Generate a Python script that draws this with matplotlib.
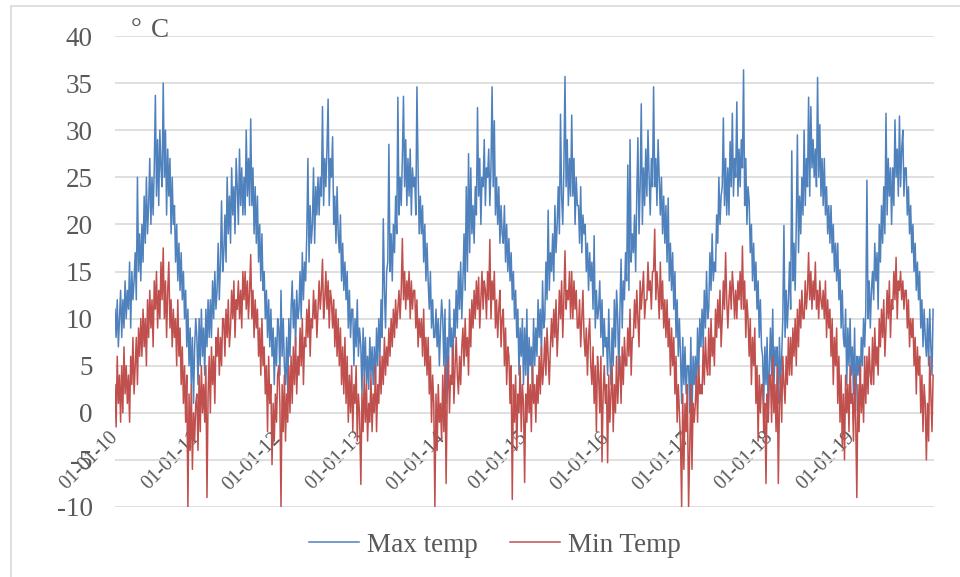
import numpy as np
import pandas as pd
import matplotlib
matplotlib.use("Agg")
import matplotlib.pyplot as plt
import matplotlib.dates as mdates
from matplotlib.patches import Rectangle

# lecturas cada 5 dias de temperatura maxima / minima, una lista por anio (6 por mes)
tmax_2010 = [11, 8, 12, 7, 10, 13,  8, 12, 9, 14, 10, 13,  11, 16, 9, 15, 12, 14,
             17, 12, 25, 15, 19, 14,  20, 16, 23, 18, 25, 19,  22, 27, 20, 25, 21, 26,
             33.7, 23, 29, 22, 30, 26,  24, 35, 25, 30, 21, 28,  23, 27, 19, 25, 20, 22,
             16, 20, 14, 18, 13, 17,  12, 15, 10, 13, 7, 11,  5, 9, 3, 8, 1, 7, 10]
tmin_2010 = [3, -1.5, 6, 1, 4, -1,  5, 0, 7, 2, 5, 1,  4, -1, 6, 3, 8, 2,
             5, 8, 3, 9, 6, 10,  6, 11, 7, 10, 5, 12,  8, 13, 9, 12, 7, 14,
             11, 15, 9, 13, 10, 16,  12, 17.5, 10, 14, 8, 13,  16, 9, 12, 7, 11, 8,
             10, 5, 12, 6, 9, 3,  7, 1, 5, -1, 4, -10,  2, -4, 3, -6, 0, -3, 1]

tmax_2011 = [8, 3, 10, 5, 11, 6,  9, 4, 11, 7, 12, 8,  12, 8, 14, 10, 15, 11,
             13, 18, 12, 16, 22.5, 15,  17, 21, 16, 25, 19, 23,  18, 26, 21, 24, 19, 27,
             24, 20, 28, 22, 26, 21,  25, 21, 30, 23, 27, 22,  31.2, 22, 26, 19, 24, 18,
             23, 16, 20, 14, 19, 13,  15, 10, 13, 8, 12, 7,  11, 6, 9, 3, 8, 5, 10]
tmin_2011 = [2, -4, 4, -2, 5, 0,  3, -1, 5, -9, 2, 6,  0, 7, 3, 6, 1, 8,
             6, 9, 4, 8, 5, 10,  10, 6, 11, 8, 12, 7,  9, 13, 10, 14, 8, 12,
             11, 14, 10, 13, 9, 15,  12, 15, 11, 14, 10, 13,  16.8, 10, 13, 8, 12, 9,
             11, 6, 9, 4, 10, 5,  7, 2, 5, -2, 6, 1,  3, -5.5, 1, -3, 2, -1, 4]

tmax_2012 = [9, 4, 13, 6, 10, 5,  3, 8, 2, 10, 6, 11,  14, 9, 12, 7, 13, 10,
             11, 15, 10, 17, 12, 16,  14, 19, 27, 16, 22, 18,  20, 26, 18, 24, 21, 25,
             21, 25, 23, 32.5, 22, 27,  24, 28, 33.3, 22, 27, 25,  29.3, 20, 23, 18, 24, 19,
             17, 21, 14, 18, 13, 16,  12, 15, 9, 13, 8, 11,  11, 5, 10, 7, 12, 6, 9]
tmin_2012 = [5, 1, -10, 3, -2, 4,  -3, 2, -1, 5, 0, 6,  1, 7, 3, 8, 2, 6,
             4, 9, 5, 10, 3, 8,  7, 11, 8, 12, 6, 10,  9, 13, 10, 12, 8, 11,
             14, 11, 13, 16.3, 10, 12,  15, 11, 14, 9, 13, 12,  9, 12, 7, 11, 6, 10,
             5, 9, 3, 7, 2, 8,  1, 6, -1, 4, 0, 5,  -2, 3, 1, 5, -3, 2, 0]

tmax_2013 = [7, 2, 9, 4, 8, 3,  6, 2.5, 8, 4, 7, 3,  7, 3, 9, 5, 10, 6,
             12, 8, 20.6, 13, 9, 15,  16, 28.5, 15, 19, 14, 20,  17, 23, 19, 33.5, 21, 25,
             22, 27, 33.6, 24, 29, 22,  27, 23, 28, 21, 26, 24,  25, 21, 34.6, 26, 19, 23,
             19, 22, 16, 20, 14, 18,  14, 11, 15, 9, 12, 8,  8, 11, 7, 10, 5, 9, 12]
tmin_2013 = [-7.6, 2, -2, 4, -1, 3,  -3, 1, -1, 4, -2, 2,  0, 5, -2, 3, 1, 6,
             2, 6, 3, 8, 4, 7,  5, 9, 6, 10, 7, 11,  8, 12, 9, 11, 13, 10,
             13, 18.5, 12, 15, 11, 14,  12, 15, 10, 14, 11, 13,  13, 9, 12, 7, 10, 8,
             10, 6, 11, 5, 8, 4,  8, 2, 6, -1, 4, 1,  -10, 2, -4, 3, -1, 1, -3]

tmax_2014 = [10, 5, 11, 1, 8, 4,  12, 7, 9, 4, 11, 8,  13, 9, 15, 11, 16, 10,
             14, 19, 13, 24, 15, 27.5,  17, 26, 19, 22, 18, 24,  21, 32.4, 23, 27, 20, 25,
             24, 29, 22, 26, 25, 28,  22, 26, 34.6, 24, 31, 21,  25, 20, 24, 18, 22, 19,
             18, 22, 16, 20, 15, 18.5,  14, 17, 12, 15, 10, 13,  8, 11, 4, 9, 6, 10, 3]
tmin_2014 = [4, -2, 5, -7.5, 2, 6,  0, 4, 3, 7, 1, 5,  8, 4, 2, 6, 3, 7,
             9, 5, 10, 6, 8, 4,  11, 7, 12, 9, 13, 10,  14, 11, 14.4, 9, 12, 15,
             11, 14, 13, 10, 15, 12,  18.4, 10, 14, 12, 15, 9,  12, 8, 11, 13, 7, 10,
             11, 5, 9, 3, 7, 6,  1, 5, -9.2, 3, -1, 4,  -4, 2, 0, 5, -2, 3, 1]

tmax_2015 = [9, 4, 11, 2, 8, 5,  7, 3, 10, 5, 9, 6,  12, 8, 11, 6, 14, 9,
             10, 16, 12, 21.5, 13, 17,  15, 19, 14, 22, 17, 20,  24, 19, 31.7, 23, 20, 26,
             35.7, 24, 29, 22, 27, 23,  31.6, 23, 27, 20, 25, 22,  22, 18, 24, 17, 21, 19,
             20, 15, 18, 13, 17, 14,  16, 11, 18.8, 9, 13, 10,  11, 14, 8, 12, 6, 10, 7]
tmin_2015 = [-7.4, 2, -1, 4, 0, 3,  -2, 5, 1, 3, -1, 4,  1, 6, 2, 7, 3, 5,
             8, 4, 9, 6, 3, 7,  10, 7, 11, 8, 12, 6,  9, 13, 10, 14, 8, 12,
             17.2, 11, 13, 12, 15, 10,  15, 10, 14, 11, 13, 9,  9, 12, 7, 10, 13, 8,
             6, 9, 4, 8, 10, 5,  3, 7, 1, 5, -2, 6,  4, 0, 6, -5.2, 2, 5, 1]

tmax_2016 = [8, 4, 11, 6, 3, 9,  5, 12, 7, 13, 10, 4,  11, 16.3, 9, 14, 12, 17,
             14, 26.3, 13, 29, 16, 19,  17, 21, 15, 23, 29.2, 19,  24, 32.8, 20, 26, 22, 28,
             23, 30, 25, 21, 27, 24,  34.6, 24, 27, 22, 29, 25,  21, 25, 19, 23, 18, 22,
             16, 22.8, 14, 18, 13, 17,  11, 15, 8, 12, 6, 10,  6, 1, 8, 3, 7, 2, 5]
tmin_2016 = [3, -5.3, 4, -1, 2, 5,  -2, 3, 0, 6, 1, 4,  6, 1, 7, 3, 8, 5,
             5, 9, 6, 11, 4, 8,  8, 12, 9, 13, 10, 7,  14, 11, 13, 15, 10, 12,
             12, 16, 13, 14, 11, 15,  15, 19.5, 12, 15, 13, 10,  16, 11, 14, 9, 12, 8,
             12, 7, 10, 4, 9, 5,  8, 2, 6, -1, 3, 0,  -3, -10, 2, -6, 1, -2, 3]

tmax_2017 = [5, 0, 8, -0.9, 6, 3,  6, 2, 9, 4, 10, 7,  11, 7, 13, 9, 15, 10,
             11, 17, 13, 19, 14, 16,  15, 21, 18, 25, 20, 23,  24, 31.3, 22, 27, 21, 26,
             21, 28.8, 24, 31.8, 23, 27,  25, 33, 23, 28, 24, 29,  26, 36.4, 22, 27, 20, 24,
             22.5, 17, 20, 14, 18, 13,  16, 11, 14, 8, 12, 7,  6, 1, 7, 3, 8, -0.5, 5]
tmin_2017 = [-10, -4, 3, -6, 1, -1,  1, 4, -1, 5, 2, 3,  2, 7, 3, 8, 5, 4,
             9, 4, 10, 6, 8, 5,  11, 8, 12, 9, 13, 7,  10, 14, 11, 17, 12, 9,
             12, 14, 11, 15, 13, 10,  13, 10, 14, 12, 15, 11,  17.7, 11, 14, 8, 12, 10,
             6, 10, 3, 8, 5, 9,  1, 5, -3, 4, 0, 3,  3, -2, 1, -7.5, 2, -1, 4]

tmax_2018 = [9, 4, 11, 2, 7, 5,  7, 1, 8, 3, 6, 10,  19.9, 8, 13, 9, 12, 16,
             11, 27.8, 14, 18, 13, 20,  29.5, 17, 23, 19, 25, 21,  30, 22, 27, 24, 33.5, 23,
             32.5, 26, 29, 25, 28, 24,  35.6, 25, 30.6, 23, 27, 22,  27, 21, 24, 19, 22, 18,
             22, 17, 20, 15, 18, 14,  18, 12, 15.2, 9, 13, 8,  7, 11, 3, 9, 5, 10, 4]
tmin_2018 = [4, -1, 6, 0, 3, -2,  5, -7.5, 1, 4, -1, 6,  3, 1, 6, 3, 8, 4,
             8, 4, 9, 6, 10, 5,  11, 7, 12, 9, 13, 10,  10, 14, 11, 13, 17, 12,
             15, 11, 14, 12, 16, 11,  13, 10, 14, 12, 11, 13,  10, 14, 8, 12, 9, 11,
             6, 10, 3, 8, 5, 9,  1, 6, -1, 4, -3.5, 2,  -5, 4, 0, 3, -2, 5, 1]

tmax_2019 = [7, 2, 9, 0.2, 6, 4,  6, 3, 8, 5, 10, 7,  11, 24.7, 10, 14, 9, 13,
             15, 12, 18, 14, 17, 11,  20, 16, 22, 18, 24, 19,  31.8, 21, 27, 23, 26, 20,
             26, 22, 31.1, 25, 28, 23,  31.5, 24, 28, 30, 23, 26,  26, 21, 24, 19, 22, 17,
             20, 15, 18, 13, 16, 12,  15, 9, 12, 7, 11, 8,  6, 10, 5, 11, 7, 4, 11]
tmin_2019 = [2, -3, 4, -1, -9, 3,  -2, 5, 0, 3, -1, 6,  1, 6, 2, 7, 4, 3,
             8, 3, 9, 5, 7, 4,  10, 7, 11, 8, 12, 6,  9, 13, 10, 14, 8, 12,
             11, 15, 12, 16.5, 10, 14,  13, 15, 12, 14, 11, 13,  13, 9, 12, 7, 10, 8,
             10, 5, 8, 2, 7, 4,  6, 0, 4, -2, 3, 1,  -5, 1, -3, 6, 2, -2, 4]

years = list(range(2010, 2020))
tmax_years = [tmax_2010, tmax_2011, tmax_2012, tmax_2013, tmax_2014,
              tmax_2015, tmax_2016, tmax_2017, tmax_2018, tmax_2019]
tmin_years = [tmin_2010, tmin_2011, tmin_2012, tmin_2013, tmin_2014,
              tmin_2015, tmin_2016, tmin_2017, tmin_2018, tmin_2019]

fechas_max = []
fechas_min = []
for y, a, b in zip(years, tmax_years, tmin_years):
    fechas_max.extend(pd.date_range(str(y) + "-01-01", periods=len(a), freq="5D"))
    fechas_min.extend(pd.date_range(str(y) + "-01-01", periods=len(b), freq="5D"))
tmax = np.concatenate(tmax_years)
tmin = np.concatenate(tmin_years)

plt.rcParams['font.family'] = ['Liberation Serif', 'DejaVu Serif']
plt.rcParams['axes.unicode_minus'] = False
gris = "#595959"

fig = plt.figure(figsize=(9.6, 5.77), dpi=100)
ax = fig.add_axes([115 / 960, 1 - 507 / 577, (934 - 115) / 960, (507 - 36) / 577])

# marco exterior del grafico
fig.patches.append(Rectangle((11 / 960, -0.1), 1.2, 1 - 6 / 577 + 0.1, transform=fig.transFigure,
                             fill=False, edgecolor="#d9d9d9", linewidth=1.2))

ax.plot(fechas_max, tmax, color="#4f81bd", linewidth=1.1, label="Max temp", zorder=3)
ax.plot(fechas_min, tmin, color="#c0504d", linewidth=1.1, label="Min Temp", zorder=4)

ax.set_ylim(-10, 40)
ax.set_yticks(np.arange(-10, 41, 5))
ax.set_xlim(pd.Timestamp("2010-01-01"), pd.Timestamp("2019-12-31"))
ax.set_xticks([pd.Timestamp(str(y) + "-01-01") for y in years])
ax.xaxis.set_major_formatter(mdates.DateFormatter("%d-%m-%y"))

ax.grid(axis="y", color="#d9d9d9", linewidth=1.2, zorder=0)
ax.set_axisbelow(True)
for s in ax.spines.values():
    s.set_visible(False)
ax.spines['bottom'].set_position(('data', 0))

ax.tick_params(axis="y", length=0, pad=16, labelsize=19.5, labelcolor=gris)
ax.tick_params(axis="x", length=0, pad=16, labelsize=14.5, labelcolor=gris)
for lab in ax.get_xticklabels():
    lab.set_rotation(45)
    lab.set_rotation_mode("anchor")
    lab.set_ha("right")
    lab.set_va("center")

fig.text(131 / 960, 1 - 37 / 577, "°", fontsize=19.5, color=gris, va="baseline")
fig.text(151 / 960, 1 - 37 / 577, "C", fontsize=19.5, color=gris, va="baseline")

fig.legend(loc="center", bbox_to_anchor=(495 / 960, 1 - 545 / 577), ncol=2, frameon=False,
           fontsize=19.5, handlelength=1.85, handletextpad=0.3, columnspacing=1.2,
           labelcolor=gris)

fig.savefig("out.png", dpi=100)
plt.close()
